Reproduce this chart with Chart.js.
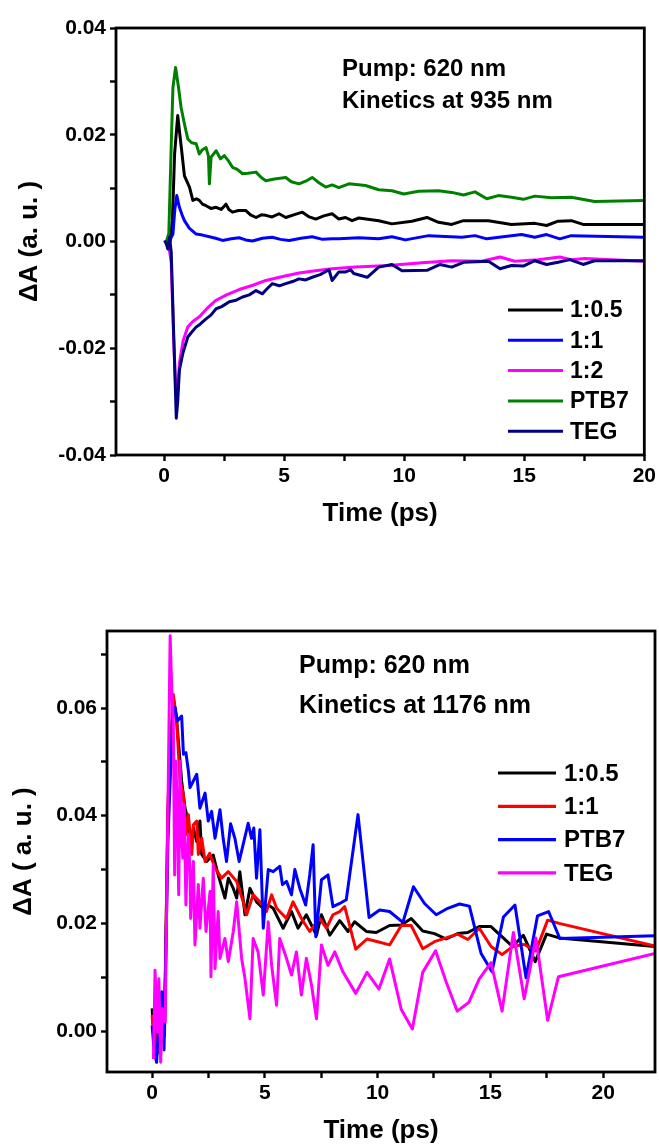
<!DOCTYPE html>
<html>
<head>
<meta charset="utf-8">
<script src="https://cdn.jsdelivr.net/npm/chart.js@4.4.0/dist/chart.umd.min.js"></script>
<style>
  html, body { margin: 0; padding: 0; background: #fff; }
  #wrap { position: relative; width: 659px; height: 1144px; }
  canvas { position: absolute; left: 0; }
  #topChart { top: 0; }
  #bottomChart { top: 572px; }
</style>
</head>
<body>
<div id="wrap">
  <canvas id="topChart" width="659" height="572"></canvas>
  <canvas id="bottomChart" width="659" height="572"></canvas>
</div>
<script>
const FONT = '"Liberation Sans", Arial, Helvetica, sans-serif';

// ---------- top panel: kinetics at 935 nm ----------
const topLabels = ['1:0.5', '1:1', '1:2', 'PTB7', 'TEG'];
const topColors = ['#000000', '#0000ff', '#ff00ff', '#008000', '#000080'];
const topXTicks = [0, 2.5, 5, 7.5, 10, 12.5, 15, 17.5, 20];
const topXTickLabels = ['0', '', '5', '', '10', '', '15', '', '20'];
const topYTicks = [-0.04, -0.03, -0.02, -0.01, 0, 0.01, 0.02, 0.03, 0.04];
const topYTickLabels = ['-0.04', '', '-0.02', '', '0.00', '', '0.02', '', '0.04'];

const t935_105 = [0.1, 0.25, 0.35, 0.44, 0.57, 0.66, 0.75, 0.85, 1.06, 1.2, 1.35, 1.47, 1.6, 1.75, 1.95, 2.17, 2.38, 2.58, 2.7, 2.85, 3.1, 3.41, 3.6, 3.83, 4.05, 4.24, 4.5, 4.79, 5.07, 5.4, 5.76, 6.05, 6.32, 6.65, 7.0, 7.28, 7.56, 7.83, 8.11, 8.94, 9.49, 10.32, 10.95, 11.43, 11.98, 12.47, 13.51, 14.47, 15.44, 15.93, 16.41, 16.96, 17.45, 20];
const dA935_105 = [0.0, 0.0, 0.004, 0.0164, 0.0236, 0.0200, 0.0164, 0.0123, 0.0102, 0.0077, 0.0080, 0.0077, 0.0070, 0.0067, 0.0062, 0.0064, 0.0060, 0.0070, 0.0060, 0.0055, 0.0058, 0.0058, 0.0050, 0.0045, 0.0050, 0.0049, 0.0046, 0.0052, 0.0045, 0.0050, 0.0055, 0.0046, 0.0042, 0.0048, 0.0052, 0.0042, 0.0045, 0.0039, 0.0044, 0.0039, 0.0033, 0.0038, 0.0045, 0.0036, 0.0032, 0.0039, 0.0039, 0.0032, 0.0034, 0.0030, 0.0038, 0.0039, 0.0032, 0.0032];

const t935_11 = [0.1, 0.25, 0.37, 0.45, 0.53, 0.64, 0.75, 0.85, 1.05, 1.34, 1.6, 1.89, 2.15, 2.44, 2.8, 3.13, 3.4, 3.68, 4.1, 4.51, 4.85, 5.21, 5.7, 6.17, 6.6, 7.0, 7.28, 8.11, 8.94, 9.49, 10.05, 11.02, 12.4, 12.95, 13.44, 14.89, 15.44, 15.93, 16.48, 16.96, 20];
const dA935_11 = [0.0, 0.0003, 0.0014, 0.006, 0.0086, 0.0064, 0.0050, 0.0039, 0.0025, 0.0014, 0.0012, 0.0009, 0.0006, 0.0002, 0.0005, 0.0007, 0.0003, 0.0001, 0.0006, 0.0008, 0.0004, 0.0002, 0.0006, 0.0009, 0.0004, 0.0005, 0.0005, 0.0007, 0.0005, 0.0009, 0.0003, 0.0011, 0.0008, 0.0011, 0.0005, 0.0013, 0.0008, 0.0013, 0.0005, 0.0011, 0.0008];

const t935_12 = [0.1, 0.2, 0.3, 0.4, 0.48, 0.55, 0.65, 0.8, 0.99, 1.2, 1.47, 1.8, 2.17, 2.6, 3.13, 3.7, 4.24, 4.9, 5.62, 6.3, 7.0, 7.97, 9.36, 10.74, 11.98, 13.23, 13.99, 14.61, 15.58, 16.48, 16.96, 17.52, 20];
const dA935_12 = [0.0, -0.0008, -0.004, -0.018, -0.027, -0.029, -0.0225, -0.0185, -0.0160, -0.0150, -0.0141, -0.0125, -0.0110, -0.0100, -0.0090, -0.0082, -0.0073, -0.0066, -0.0059, -0.0055, -0.0051, -0.0048, -0.0045, -0.0040, -0.0036, -0.0037, -0.0029, -0.0037, -0.0034, -0.0029, -0.0034, -0.0032, -0.0037];

const t935_ptb7 = [0.1, 0.2, 0.3, 0.37, 0.48, 0.6, 0.71, 0.85, 0.99, 1.15, 1.34, 1.47, 1.6, 1.75, 1.85, 1.89, 1.96, 2.17, 2.35, 2.51, 2.7, 2.85, 3.05, 3.27, 3.5, 3.83, 4.05, 4.24, 4.6, 5.07, 5.3, 5.62, 5.9, 6.17, 6.45, 6.73, 7.0, 7.28, 7.7, 8.39, 8.94, 9.49, 9.98, 10.6, 11.43, 11.98, 12.47, 12.95, 13.44, 13.92, 14.47, 14.96, 15.44, 16.13, 16.96, 17.93, 20];
const dA935_ptb7 = [0.0, 0.0015, 0.018, 0.0288, 0.0326, 0.029, 0.0251, 0.022, 0.0192, 0.0185, 0.0183, 0.0164, 0.0172, 0.0176, 0.0160, 0.0108, 0.0158, 0.0170, 0.0155, 0.0161, 0.0150, 0.0139, 0.0135, 0.0127, 0.0128, 0.0130, 0.0120, 0.0114, 0.0117, 0.0120, 0.0112, 0.0108, 0.0113, 0.0120, 0.0110, 0.0102, 0.0106, 0.0101, 0.0108, 0.0105, 0.0097, 0.0095, 0.0089, 0.0094, 0.0095, 0.0092, 0.0087, 0.0093, 0.0080, 0.0086, 0.0083, 0.0079, 0.0085, 0.0082, 0.0083, 0.0075, 0.0077];

const t935_teg = [0.02, 0.1, 0.16, 0.23, 0.3, 0.44, 0.51, 0.57, 0.64, 0.78, 0.99, 1.15, 1.34, 1.5, 1.75, 1.95, 2.17, 2.4, 2.72, 3.0, 3.27, 3.55, 3.83, 4.1, 4.3, 4.51, 4.8, 5.07, 5.35, 5.62, 5.9, 6.17, 6.5, 6.87, 7.0, 7.28, 7.56, 7.77, 7.9, 8.46, 8.94, 9.49, 9.91, 10.95, 11.5, 11.98, 12.47, 13.51, 13.99, 14.47, 14.96, 15.44, 15.93, 16.41, 16.9, 17.45, 17.93, 20];
const dA935_teg = [0.0002, -0.0005, -0.0014, 0.0008, -0.002, -0.0229, -0.0331, -0.030, -0.0241, -0.0210, -0.0179, -0.0170, -0.0160, -0.0155, -0.0145, -0.0138, -0.0126, -0.0122, -0.0113, -0.0110, -0.0104, -0.0100, -0.0092, -0.0098, -0.0088, -0.0079, -0.0083, -0.0079, -0.0075, -0.0070, -0.0072, -0.0067, -0.0062, -0.0053, -0.0073, -0.0057, -0.0057, -0.0053, -0.0060, -0.0067, -0.0048, -0.0043, -0.0055, -0.0054, -0.0043, -0.0048, -0.0039, -0.0037, -0.0051, -0.0045, -0.0046, -0.0036, -0.0043, -0.0039, -0.0034, -0.0043, -0.0036, -0.0036];

// ---------- bottom panel: kinetics at 1176 nm ----------
const botLabels = ['1:0.5', '1:1', 'PTB7', 'TEG'];
const botColors = ['#000000', '#ff0000', '#0000ff', '#ff00ff'];
const botXTicks = [0, 2.5, 5, 7.5, 10, 12.5, 15, 17.5, 20];
const botXTickLabels = ['0', '', '5', '', '10', '', '15', '', '20'];
const botYTicks = [0, 0.01, 0.02, 0.03, 0.04, 0.05, 0.06, 0.07];
const botYTickLabels = ['0.00', '', '0.02', '', '0.04', '', '0.06', ''];

const t1176_105 = [0.0, 0.1, 0.2, 0.3, 0.45, 0.55, 0.7, 0.94, 1.09, 1.24, 1.31, 1.46, 1.61, 1.68, 1.83, 1.98, 2.12, 2.2, 2.42, 2.71, 2.93, 3.23, 3.38, 3.6, 3.75, 3.89, 4.12, 4.34, 4.63, 4.93, 5.15, 5.37, 5.81, 6.18, 6.47, 6.84, 7.29, 7.51, 7.88, 8.32, 8.69, 8.98, 9.5, 9.94, 10.53, 11.05, 11.49, 12.0, 12.52, 13.04, 13.55, 14.0, 14.51, 15.03, 15.99, 16.46, 16.99, 17.49, 18.05, 22.3];
const dA1176_105 = [0.0042, -0.002, -0.0045, 0.004, -0.002, 0.001, 0.040, 0.0619, 0.0576, 0.0501, 0.0464, 0.0414, 0.0390, 0.0334, 0.0377, 0.0352, 0.0390, 0.0328, 0.0315, 0.0327, 0.0290, 0.0247, 0.0284, 0.0265, 0.0247, 0.0296, 0.0216, 0.0265, 0.0240, 0.0228, 0.0234, 0.0228, 0.0191, 0.0222, 0.0191, 0.0216, 0.0178, 0.0216, 0.0178, 0.0205, 0.0185, 0.0203, 0.0185, 0.0183, 0.0196, 0.0197, 0.0209, 0.0186, 0.0181, 0.0171, 0.0181, 0.0183, 0.0194, 0.0194, 0.0157, 0.0178, 0.0129, 0.0180, 0.0173, 0.0157];

const t1176_11 = [0.0, 0.1, 0.2, 0.3, 0.45, 0.55, 0.7, 0.94, 1.09, 1.24, 1.39, 1.5, 1.61, 1.76, 1.83, 1.98, 2.05, 2.2, 2.35, 2.55, 2.79, 3.08, 3.38, 3.75, 4.04, 4.19, 4.48, 4.78, 5.07, 5.3, 5.52, 5.96, 6.25, 6.62, 6.99, 7.43, 7.73, 8.02, 8.32, 8.54, 9.03, 9.53, 10.01, 10.53, 11.05, 11.49, 12.0, 12.52, 13.55, 14.0, 14.51, 15.03, 15.52, 15.99, 16.5, 17.02, 17.54, 18.05, 22.3];
const dA1176_11 = [0.003, -0.003, 0.002, -0.004, 0.003, -0.001, 0.042, 0.0625, 0.0576, 0.0464, 0.0439, 0.0365, 0.0402, 0.0328, 0.0383, 0.0390, 0.0328, 0.0358, 0.0315, 0.0330, 0.0303, 0.0284, 0.0296, 0.0278, 0.0240, 0.0216, 0.0253, 0.0240, 0.0222, 0.0253, 0.0228, 0.0209, 0.0240, 0.0209, 0.0185, 0.0209, 0.0191, 0.0216, 0.0222, 0.0231, 0.0152, 0.0171, 0.0166, 0.0160, 0.0196, 0.0196, 0.0153, 0.0166, 0.0180, 0.0170, 0.0191, 0.0157, 0.0142, 0.0157, 0.0161, 0.0149, 0.0206, 0.0200, 0.0158];

const t1176_ptb7 = [0.0, 0.1, 0.2, 0.3, 0.43, 0.53, 0.7, 0.9, 1.02, 1.12, 1.31, 1.39, 1.5, 1.61, 1.68, 1.98, 2.12, 2.35, 2.49, 2.64, 2.79, 3.01, 3.15, 3.3, 3.48, 3.67, 3.86, 4.26, 4.41, 4.51, 4.63, 4.78, 4.93, 5.15, 5.37, 5.66, 5.78, 5.96, 6.18, 6.33, 6.55, 6.81, 6.99, 7.14, 7.26, 7.51, 7.8, 8.02, 8.32, 8.61, 9.13, 9.62, 10.09, 10.53, 11.12, 11.59, 12.08, 12.6, 13.11, 13.63, 14.07, 14.59, 15.07, 15.58, 16.09, 16.58, 17.09, 17.58, 18.08, 22.3];
const dA1176_ptb7 = [0.001, -0.004, -0.0058, 0.002, 0.0073, -0.0035, 0.035, 0.058, 0.0601, 0.0576, 0.0585, 0.0514, 0.0517, 0.0483, 0.0452, 0.0477, 0.0414, 0.0442, 0.0390, 0.0408, 0.0358, 0.0411, 0.0358, 0.0315, 0.0385, 0.0358, 0.0315, 0.0386, 0.0358, 0.0377, 0.0284, 0.0374, 0.0191, 0.0300, 0.0296, 0.0306, 0.0272, 0.0278, 0.0253, 0.0300, 0.0265, 0.0234, 0.0290, 0.0346, 0.0175, 0.0281, 0.0290, 0.0231, 0.0237, 0.0244, 0.0402, 0.0211, 0.0225, 0.0222, 0.0202, 0.0268, 0.0237, 0.0216, 0.0228, 0.0236, 0.0232, 0.0144, 0.0110, 0.0212, 0.0234, 0.0099, 0.0214, 0.0222, 0.0172, 0.0177];

const t1176_teg = [0.06, 0.13, 0.24, 0.3, 0.38, 0.46, 0.58, 0.8, 0.87, 0.94, 1.0, 1.05, 1.12, 1.18, 1.24, 1.31, 1.36, 1.42, 1.5, 1.56, 1.61, 1.68, 1.71, 1.83, 1.9, 2.05, 2.12, 2.27, 2.39, 2.57, 2.61, 2.71, 2.79, 2.93, 3.01, 3.23, 3.38, 3.6, 3.75, 3.97, 4.12, 4.34, 4.48, 4.7, 4.93, 5.15, 5.3, 5.52, 5.66, 5.96, 6.18, 6.4, 6.62, 6.84, 7.07, 7.29, 7.51, 7.8, 8.1, 8.46, 9.03, 9.53, 10.06, 10.53, 11.05, 11.54, 12.0, 12.57, 13.04, 13.53, 14.04, 14.51, 15.03, 15.52, 16.02, 16.5, 17.02, 17.54, 18.02, 22.3];
const dA1176_teg = [-0.0052, 0.0113, -0.0002, 0.0097, -0.0058, 0.0042, 0.0017, 0.0734, 0.0638, 0.0576, 0.0290, 0.0501, 0.0414, 0.0253, 0.0501, 0.0365, 0.0321, 0.0421, 0.0234, 0.0328, 0.0365, 0.0296, 0.0209, 0.0315, 0.0160, 0.0272, 0.0191, 0.0284, 0.0185, 0.0259, 0.0101, 0.0309, 0.0116, 0.0222, 0.0135, 0.0172, 0.0129, 0.0185, 0.0240, 0.0135, 0.0097, 0.0023, 0.0172, 0.0147, 0.0067, 0.0203, 0.0122, 0.0048, 0.0172, 0.0135, 0.0104, 0.0147, 0.0067, 0.0135, 0.0085, 0.0023, 0.0160, 0.0122, 0.0147, 0.0110, 0.0070, 0.0109, 0.0078, 0.0134, 0.0040, 0.0004, 0.0109, 0.0149, 0.0091, 0.0037, 0.0053, 0.0097, 0.0127, 0.0037, 0.0183, 0.0060, 0.0173, 0.0020, 0.0101, 0.0144];

// ---------- helpers ----------
function pairs(times, values) {
    return times.map((t, i) => ({ x: t, y: values[i] }));
}

function buildDatasets(labels, colors, series) {
    const n = labels.length;
    return labels.map((label, i) => ({
        label: label,
        data: pairs(series[i][0], series[i][1]),
        borderColor: colors[i],
        backgroundColor: colors[i],
        borderWidth: 3,
        borderJoinStyle: 'round',
        pointRadius: 0,
        tension: 0,
        fill: false,
        order: n - i // later series drawn on top, like the original plot
    }));
}

// box frame drawn over the data
const framePlugin = {
    id: 'frame',
    afterDatasetsDraw(chart) {
        const { ctx, chartArea: a } = chart;
        ctx.save();
        ctx.lineWidth = 2.8;
        ctx.strokeStyle = '#000';
        ctx.strokeRect(a.left, a.top, a.right - a.left, a.bottom - a.top);
        ctx.restore();
    }
};

// annotation text + in-plot legend
const panelTextPlugin = {
    id: 'panelText',
    afterDraw(chart, args, opts) {
        const ctx = chart.ctx;
        ctx.save();
        ctx.fillStyle = '#000';
        ctx.textBaseline = 'middle';
        ctx.textAlign = 'left';
        ctx.font = `bold ${opts.noteSize}px ${FONT}`;
        opts.notes.forEach(n => ctx.fillText(n.text, n.x, n.y));

        const L = opts.legend;
        ctx.font = `bold ${L.size}px ${FONT}`;
        chart.data.datasets.forEach((ds, i) => {
            const y = L.y + i * L.gap;
            ctx.strokeStyle = ds.borderColor;
            ctx.lineWidth = L.lineWidth;
            ctx.beginPath();
            ctx.moveTo(L.x, y);
            ctx.lineTo(L.x + L.len, y);
            ctx.stroke();
            ctx.fillText(ds.label, L.x + L.len + L.textGap, y + 1);
        });
        ctx.restore();
    }
};

function makeChart(id, box, setup) {
    const canvas = document.getElementById(id);
    const W = canvas.width, H = canvas.height;
    const tickFont = { family: FONT, size: 21, weight: 'bold' };
    const titleFont = { family: FONT, size: 26, weight: 'bold', lineHeight: 1 };
    const tickGrid = { drawOnChartArea: false, drawTicks: true, tickLength: 6, tickWidth: 2.4, tickColor: '#000' };

    return new Chart(canvas, {
        type: 'line',
        data: { datasets: setup.datasets },
        options: {
            responsive: false,
            animation: false,
            devicePixelRatio: 1,
            layout: { padding: { left: 0, top: box.top, right: W - box.right, bottom: 0 } },
            plugins: {
                legend: { display: false },
                tooltip: { enabled: false },
                panelText: setup.text
            },
            scales: {
                x: {
                    type: 'linear',
                    min: setup.xMin,
                    max: setup.xMax,
                    afterFit: s => { s.height = H - box.bottom; },
                    afterBuildTicks: s => { s.ticks = setup.xTicks.map(v => ({ value: v })); },
                    grid: tickGrid,
                    border: { display: false },
                    ticks: {
                        color: '#000', font: tickFont, padding: 3,
                        autoSkip: false, maxRotation: 0,
                        callback: (v, i) => setup.xTickLabels[i]
                    },
                    title: {
                        display: true, text: 'Time (ps)', color: '#000', font: titleFont,
                        padding: { top: 0, bottom: setup.xTitlePad }
                    }
                },
                y: {
                    type: 'linear',
                    min: setup.yMin,
                    max: setup.yMax,
                    afterFit: s => { s.width = box.left; },
                    afterBuildTicks: s => { s.ticks = setup.yTicks.map(v => ({ value: v })); },
                    grid: tickGrid,
                    border: { display: false },
                    ticks: {
                        color: '#000', font: tickFont, padding: 4,
                        autoSkip: false,
                        callback: (v, i) => setup.yTickLabels[i]
                    },
                    title: {
                        display: true, text: setup.yTitle, color: '#000', font: titleFont,
                        padding: { top: setup.yTitlePad, bottom: 0 }
                    }
                }
            }
        },
        plugins: [framePlugin, panelTextPlugin]
    });
}

// ---------- draw ----------
makeChart('topChart', { left: 116, right: 647, top: 28, bottom: 455 }, {
    datasets: buildDatasets(topLabels, topColors, [
        [t935_105, dA935_105],
        [t935_11, dA935_11],
        [t935_12, dA935_12],
        [t935_ptb7, dA935_ptb7],
        [t935_teg, dA935_teg]
    ]),
    xMin: -2, xMax: 20, yMin: -0.04, yMax: 0.04,
    xTicks: topXTicks, xTickLabels: topXTickLabels,
    yTicks: topYTicks, yTickLabels: topYTickLabels,
    yTitle: '\u0394A (a. u. )',
    xTitlePad: 45, yTitlePad: 17,
    text: {
        noteSize: 24,
        notes: [
            { text: 'Pump: 620 nm', x: 342, y: 69 },
            { text: 'Kinetics at 935 nm', x: 342, y: 101 }
        ],
        legend: { x: 508, y: 310, gap: 30.3, len: 55, textGap: 7, size: 23, lineWidth: 3 }
    }
});

makeChart('bottomChart', { left: 107, right: 655, top: 59, bottom: 500 }, {
    datasets: buildDatasets(botLabels, botColors, [
        [t1176_105, dA1176_105],
        [t1176_11, dA1176_11],
        [t1176_ptb7, dA1176_ptb7],
        [t1176_teg, dA1176_teg]
    ]),
    xMin: -2, xMax: 22.3, yMin: -0.0076, yMax: 0.0743,
    xTicks: botXTicks, xTickLabels: botXTickLabels,
    yTicks: botYTicks, yTickLabels: botYTickLabels,
    yTitle: '\u0394A ( a. u. )',
    xTitlePad: 0, yTitlePad: 11,
    text: {
        noteSize: 25,
        notes: [
            { text: 'Pump: 620 nm', x: 299, y: 94 },
            { text: 'Kinetics at 1176 nm', x: 299, y: 134 }
        ],
        legend: { x: 498, y: 201, gap: 33.3, len: 58, textGap: 8, size: 24, lineWidth: 3.2 }
    }
});
</script>
</body>
</html>
